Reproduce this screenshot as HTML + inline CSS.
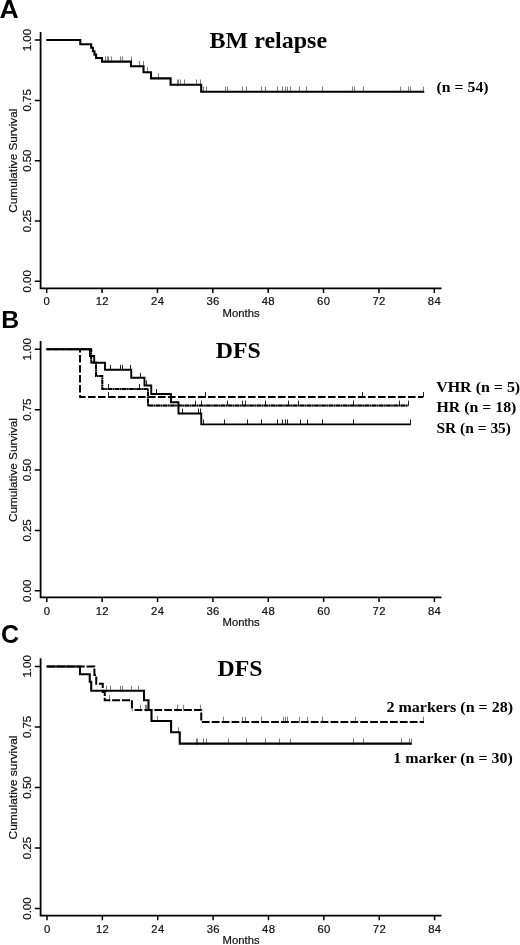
<!DOCTYPE html>
<html lang="en">
<head>
<meta charset="utf-8">
<title>Kaplan-Meier curves: BM relapse and DFS</title>
<style>
html,body{margin:0;padding:0;background:#fff;}
body{width:520px;height:945px;overflow:hidden;}
svg{display:block;}
</style>
</head>
<body>
<svg width="520" height="945" viewBox="0 0 520 945">
<rect width="520" height="945" fill="#fff"/>
<g id="panelA">
<text x="-0.5" y="17.8" font-family="'Liberation Sans', Arial, Helvetica, sans-serif" font-weight="bold" font-size="26.6" fill="#000">A</text>
<path d="M40.6 31.90V288.40H441.5" stroke="#000" stroke-width="1.8" fill="none" stroke-linejoin="miter"/>
<path d="M34.8 40.10H40.6M34.8 100.40H40.6M34.8 160.70H40.6M34.8 221.00H40.6M34.8 281.30H40.6M46.70 288.40V293.00M102.07 288.40V293.00M157.44 288.40V293.00M212.81 288.40V293.00M268.18 288.40V293.00M323.55 288.40V293.00M378.92 288.40V293.00M434.29 288.40V293.00" stroke="#000" stroke-width="1.5" fill="none"/>
<text transform="translate(30.6 40.10) rotate(-90)" text-anchor="middle" font-family="'Liberation Sans', Arial, Helvetica, sans-serif" font-size="11.4" textLength="22.3" lengthAdjust="spacingAndGlyphs" fill="#111" stroke="#111" stroke-width="0.22">1.00</text>
<text transform="translate(30.6 100.40) rotate(-90)" text-anchor="middle" font-family="'Liberation Sans', Arial, Helvetica, sans-serif" font-size="11.4" textLength="22.3" lengthAdjust="spacingAndGlyphs" fill="#111" stroke="#111" stroke-width="0.22">0.75</text>
<text transform="translate(30.6 160.70) rotate(-90)" text-anchor="middle" font-family="'Liberation Sans', Arial, Helvetica, sans-serif" font-size="11.4" textLength="22.3" lengthAdjust="spacingAndGlyphs" fill="#111" stroke="#111" stroke-width="0.22">0.50</text>
<text transform="translate(30.6 221.00) rotate(-90)" text-anchor="middle" font-family="'Liberation Sans', Arial, Helvetica, sans-serif" font-size="11.4" textLength="22.3" lengthAdjust="spacingAndGlyphs" fill="#111" stroke="#111" stroke-width="0.22">0.25</text>
<text transform="translate(30.6 281.30) rotate(-90)" text-anchor="middle" font-family="'Liberation Sans', Arial, Helvetica, sans-serif" font-size="11.4" textLength="22.3" lengthAdjust="spacingAndGlyphs" fill="#111" stroke="#111" stroke-width="0.22">0.00</text>
<text transform="translate(17.2 160.70) rotate(-90)" text-anchor="middle" font-family="'Liberation Sans', Arial, Helvetica, sans-serif" font-size="11.4" textLength="104" lengthAdjust="spacingAndGlyphs" fill="#111" stroke="#111" stroke-width="0.22">Cumulative Survival</text>
<text x="46.90" y="305.40" text-anchor="middle" font-family="'Liberation Sans', Arial, Helvetica, sans-serif" font-size="11.3" letter-spacing="0.35" fill="#111" stroke="#111" stroke-width="0.22">0</text>
<text x="102.27" y="305.40" text-anchor="middle" font-family="'Liberation Sans', Arial, Helvetica, sans-serif" font-size="11.3" letter-spacing="0.35" fill="#111" stroke="#111" stroke-width="0.22">12</text>
<text x="157.64" y="305.40" text-anchor="middle" font-family="'Liberation Sans', Arial, Helvetica, sans-serif" font-size="11.3" letter-spacing="0.35" fill="#111" stroke="#111" stroke-width="0.22">24</text>
<text x="213.01" y="305.40" text-anchor="middle" font-family="'Liberation Sans', Arial, Helvetica, sans-serif" font-size="11.3" letter-spacing="0.35" fill="#111" stroke="#111" stroke-width="0.22">36</text>
<text x="268.38" y="305.40" text-anchor="middle" font-family="'Liberation Sans', Arial, Helvetica, sans-serif" font-size="11.3" letter-spacing="0.35" fill="#111" stroke="#111" stroke-width="0.22">48</text>
<text x="323.75" y="305.40" text-anchor="middle" font-family="'Liberation Sans', Arial, Helvetica, sans-serif" font-size="11.3" letter-spacing="0.35" fill="#111" stroke="#111" stroke-width="0.22">60</text>
<text x="379.12" y="305.40" text-anchor="middle" font-family="'Liberation Sans', Arial, Helvetica, sans-serif" font-size="11.3" letter-spacing="0.35" fill="#111" stroke="#111" stroke-width="0.22">72</text>
<text x="434.49" y="305.40" text-anchor="middle" font-family="'Liberation Sans', Arial, Helvetica, sans-serif" font-size="11.3" letter-spacing="0.35" fill="#111" stroke="#111" stroke-width="0.22">84</text>
<text x="222.6" y="317.10" font-family="'Liberation Sans', Arial, Helvetica, sans-serif" font-size="11.3" textLength="37" lengthAdjust="spacingAndGlyphs" fill="#111" stroke="#111" stroke-width="0.22">Months</text>
<text x="209.6" y="48.3" font-family="'Liberation Serif', 'Times New Roman', Times, serif" font-weight="bold" font-size="23.7" textLength="117.5" lengthAdjust="spacingAndGlyphs" fill="#000">BM relapse</text>
<text x="436.6" y="92.2" font-family="'Liberation Serif', 'Times New Roman', Times, serif" font-weight="bold" font-size="14.9" textLength="52" lengthAdjust="spacingAndGlyphs" fill="#000">(n = 54)</text>
<path d="M105.50 56.40V62.80M107.50 56.40V62.80M108.50 56.40V62.80M111.50 56.40V62.80M120.50 56.40V62.80M122.50 56.40V62.80M131.50 56.40V62.80" stroke="#808080" stroke-width="1.1" fill="none"/>
<path d="M139.50 61.10V67.50M143.50 61.10V67.50" stroke="#808080" stroke-width="1.1" fill="none"/>
<path d="M147.50 67.10V73.50" stroke="#808080" stroke-width="1.1" fill="none"/>
<path d="M158.50 73.20V79.60" stroke="#808080" stroke-width="1.1" fill="none"/>
<path d="M177.50 79.50V85.90M178.50 79.50V85.90M180.50 79.50V85.90M184.50 79.50V85.90M196.50 79.50V85.90M200.50 79.50V85.90" stroke="#808080" stroke-width="1.1" fill="none"/>
<path d="M203.50 86.50V92.90M206.50 86.50V92.90M225.50 86.50V92.90M227.50 86.50V92.90M242.50 86.50V92.90M246.50 86.50V92.90M261.50 86.50V92.90M265.50 86.50V92.90M277.50 86.50V92.90M282.50 86.50V92.90M285.50 86.50V92.90M287.50 86.50V92.90M290.50 86.50V92.90M299.50 86.50V92.90M306.50 86.50V92.90M322.50 86.50V92.90M352.50 86.50V92.90M354.50 86.50V92.90M363.50 86.50V92.90M400.50 86.50V92.90M408.50 86.50V92.90M410.50 86.50V92.90M423.50 86.50V92.90" stroke="#808080" stroke-width="1.1" fill="none"/>
<path d="M46.30 40.00 L80.30 40.00 L80.30 44.30 L91.20 44.30 L91.20 47.80 L92.90 47.80 L92.90 51.20 L94.50 51.20 L94.50 54.60 L96.10 54.60 L96.10 58.00 L102.00 58.00 L102.00 61.60 L131.00 61.60 L131.00 66.30 L143.50 66.30 L143.50 72.30 L151.00 72.30 L151.00 78.40 L170.60 78.40 L170.60 84.70 L201.20 84.70 L201.20 91.70 L424.20 91.70" stroke="#000" stroke-width="2.1" fill="none" stroke-linejoin="miter" stroke-linecap="butt"/>
</g>
<g id="panelB">
<text x="1.3" y="328" font-family="'Liberation Sans', Arial, Helvetica, sans-serif" font-weight="bold" font-size="24.8" fill="#000">B</text>
<path d="M40.6 341.10V597.40H441.5" stroke="#000" stroke-width="1.8" fill="none" stroke-linejoin="miter"/>
<path d="M34.8 349.30H40.6M34.8 409.68H40.6M34.8 470.05H40.6M34.8 530.42H40.6M34.8 590.80H40.6M46.80 597.40V602.00M102.17 597.40V602.00M157.54 597.40V602.00M212.91 597.40V602.00M268.28 597.40V602.00M323.65 597.40V602.00M379.02 597.40V602.00M434.39 597.40V602.00" stroke="#000" stroke-width="1.5" fill="none"/>
<text transform="translate(30.6 349.30) rotate(-90)" text-anchor="middle" font-family="'Liberation Sans', Arial, Helvetica, sans-serif" font-size="11.4" textLength="22.3" lengthAdjust="spacingAndGlyphs" fill="#111" stroke="#111" stroke-width="0.22">1.00</text>
<text transform="translate(30.6 409.68) rotate(-90)" text-anchor="middle" font-family="'Liberation Sans', Arial, Helvetica, sans-serif" font-size="11.4" textLength="22.3" lengthAdjust="spacingAndGlyphs" fill="#111" stroke="#111" stroke-width="0.22">0.75</text>
<text transform="translate(30.6 470.05) rotate(-90)" text-anchor="middle" font-family="'Liberation Sans', Arial, Helvetica, sans-serif" font-size="11.4" textLength="22.3" lengthAdjust="spacingAndGlyphs" fill="#111" stroke="#111" stroke-width="0.22">0.50</text>
<text transform="translate(30.6 530.42) rotate(-90)" text-anchor="middle" font-family="'Liberation Sans', Arial, Helvetica, sans-serif" font-size="11.4" textLength="22.3" lengthAdjust="spacingAndGlyphs" fill="#111" stroke="#111" stroke-width="0.22">0.25</text>
<text transform="translate(30.6 590.80) rotate(-90)" text-anchor="middle" font-family="'Liberation Sans', Arial, Helvetica, sans-serif" font-size="11.4" textLength="22.3" lengthAdjust="spacingAndGlyphs" fill="#111" stroke="#111" stroke-width="0.22">0.00</text>
<text transform="translate(17.2 470.05) rotate(-90)" text-anchor="middle" font-family="'Liberation Sans', Arial, Helvetica, sans-serif" font-size="11.4" textLength="104" lengthAdjust="spacingAndGlyphs" fill="#111" stroke="#111" stroke-width="0.22">Cumulative Survival</text>
<text x="47.00" y="614.70" text-anchor="middle" font-family="'Liberation Sans', Arial, Helvetica, sans-serif" font-size="11.3" letter-spacing="0.35" fill="#111" stroke="#111" stroke-width="0.22">0</text>
<text x="102.37" y="614.70" text-anchor="middle" font-family="'Liberation Sans', Arial, Helvetica, sans-serif" font-size="11.3" letter-spacing="0.35" fill="#111" stroke="#111" stroke-width="0.22">12</text>
<text x="157.74" y="614.70" text-anchor="middle" font-family="'Liberation Sans', Arial, Helvetica, sans-serif" font-size="11.3" letter-spacing="0.35" fill="#111" stroke="#111" stroke-width="0.22">24</text>
<text x="213.11" y="614.70" text-anchor="middle" font-family="'Liberation Sans', Arial, Helvetica, sans-serif" font-size="11.3" letter-spacing="0.35" fill="#111" stroke="#111" stroke-width="0.22">36</text>
<text x="268.48" y="614.70" text-anchor="middle" font-family="'Liberation Sans', Arial, Helvetica, sans-serif" font-size="11.3" letter-spacing="0.35" fill="#111" stroke="#111" stroke-width="0.22">48</text>
<text x="323.85" y="614.70" text-anchor="middle" font-family="'Liberation Sans', Arial, Helvetica, sans-serif" font-size="11.3" letter-spacing="0.35" fill="#111" stroke="#111" stroke-width="0.22">60</text>
<text x="379.22" y="614.70" text-anchor="middle" font-family="'Liberation Sans', Arial, Helvetica, sans-serif" font-size="11.3" letter-spacing="0.35" fill="#111" stroke="#111" stroke-width="0.22">72</text>
<text x="434.59" y="614.70" text-anchor="middle" font-family="'Liberation Sans', Arial, Helvetica, sans-serif" font-size="11.3" letter-spacing="0.35" fill="#111" stroke="#111" stroke-width="0.22">84</text>
<text x="222.6" y="626.40" font-family="'Liberation Sans', Arial, Helvetica, sans-serif" font-size="11.3" textLength="37" lengthAdjust="spacingAndGlyphs" fill="#111" stroke="#111" stroke-width="0.22">Months</text>
<text x="215.8" y="357.6" font-family="'Liberation Serif', 'Times New Roman', Times, serif" font-weight="bold" font-size="23.7" textLength="45" lengthAdjust="spacingAndGlyphs" fill="#000">DFS</text>
<text x="436.2" y="391.6" font-family="'Liberation Serif', 'Times New Roman', Times, serif" font-weight="bold" font-size="14.9" textLength="84" lengthAdjust="spacingAndGlyphs" fill="#000">VHR (n = 5)</text>
<text x="436.4" y="412.1" font-family="'Liberation Serif', 'Times New Roman', Times, serif" font-weight="bold" font-size="14.9" textLength="80" lengthAdjust="spacingAndGlyphs" fill="#000">HR (n = 18)</text>
<text x="436.5" y="432.6" font-family="'Liberation Serif', 'Times New Roman', Times, serif" font-weight="bold" font-size="14.9" textLength="74.5" lengthAdjust="spacingAndGlyphs" fill="#000">SR (n = 35)</text>
<path d="M108.50 392.00V397.00M205.50 392.00V397.00M362.50 392.00V397.00M423.50 392.00V397.00" stroke="#222" stroke-width="1.0" fill="none"/>
<path d="M108.50 384.00V389.00M139.50 384.00V389.00" stroke="#222" stroke-width="1.0" fill="none"/>
<path d="M195.50 400.60V405.60M201.50 400.60V405.60M227.50 400.60V405.60M242.50 400.60V405.60M245.50 400.60V405.60M265.50 400.60V405.60M288.50 400.60V405.60M298.50 400.60V405.60M353.50 400.60V405.60M399.50 400.60V405.60M408.50 400.60V405.60" stroke="#222" stroke-width="1.0" fill="none"/>
<path d="M110.50 364.80V369.80M120.50 364.80V369.80M122.50 364.80V369.80M130.50 364.80V369.80" stroke="#222" stroke-width="1.0" fill="none"/>
<path d="M140.50 372.80V377.80" stroke="#222" stroke-width="1.0" fill="none"/>
<path d="M146.50 380.50V385.50" stroke="#222" stroke-width="1.0" fill="none"/>
<path d="M156.50 389.00V394.00" stroke="#222" stroke-width="1.0" fill="none"/>
<path d="M182.50 408.50V413.50M198.50 408.50V413.50M200.50 408.50V413.50" stroke="#222" stroke-width="1.0" fill="none"/>
<path d="M203.50 419.40V424.40M224.50 419.40V424.40M247.50 419.40V424.40M261.50 419.40V424.40M277.50 419.40V424.40M282.50 419.40V424.40M285.50 419.40V424.40M287.50 419.40V424.40M300.50 419.40V424.40M307.50 419.40V424.40M322.50 419.40V424.40M353.50 419.40V424.40M410.50 419.40V424.40" stroke="#222" stroke-width="1.0" fill="none"/>
<path d="M80.00 349.30 L80.00 397.00 L423.20 397.00" stroke="#000" stroke-width="1.9" fill="none" stroke-dasharray="7.6 2.4" stroke-dashoffset="4.3"/>
<path d="M46.50 349.30 L91.20 349.30 L91.20 362.60 L96.00 362.60 L96.00 376.00 L102.30 376.00 L102.30 389.00 L148.00 389.00 L148.00 405.60 L408.30 405.60" stroke="#777" stroke-width="1.6" fill="none"/>
<path d="M46.50 349.30 L91.20 349.30 L91.20 362.60 L96.00 362.60 L96.00 376.00 L102.30 376.00 L102.30 389.00 L148.00 389.00 L148.00 405.60 L408.30 405.60" stroke="#000" stroke-width="2" fill="none" stroke-dasharray="4.4 0.7 1.4 0.7"/>
<path d="M46.50 349.30 L89.90 349.30 L89.90 356.00 L94.20 356.00 L94.20 362.80 L105.00 362.80 L105.00 369.80 L131.25 369.80 L131.25 377.80 L144.50 377.80 L144.50 385.50 L151.25 385.50 L151.25 394.00 L171.00 394.00 L171.00 402.30 L178.50 402.30 L178.50 413.50 L201.25 413.50 L201.25 424.40 L410.80 424.40" stroke="#000" stroke-width="1.9" fill="none"/>
</g>
<g id="panelC">
<text x="1.0" y="643.1" font-family="'Liberation Sans', Arial, Helvetica, sans-serif" font-weight="bold" font-size="25" fill="#000">C</text>
<path d="M40.6 658.20V915.70H441.5" stroke="#000" stroke-width="1.8" fill="none" stroke-linejoin="miter"/>
<path d="M34.8 666.40H40.6M34.8 726.95H40.6M34.8 787.50H40.6M34.8 848.05H40.6M34.8 908.60H40.6M47.00 915.70V920.30M102.37 915.70V920.30M157.74 915.70V920.30M213.11 915.70V920.30M268.48 915.70V920.30M323.85 915.70V920.30M379.22 915.70V920.30M434.59 915.70V920.30" stroke="#000" stroke-width="1.5" fill="none"/>
<text transform="translate(30.6 666.40) rotate(-90)" text-anchor="middle" font-family="'Liberation Sans', Arial, Helvetica, sans-serif" font-size="11.4" textLength="22.3" lengthAdjust="spacingAndGlyphs" fill="#111" stroke="#111" stroke-width="0.22">1.00</text>
<text transform="translate(30.6 726.95) rotate(-90)" text-anchor="middle" font-family="'Liberation Sans', Arial, Helvetica, sans-serif" font-size="11.4" textLength="22.3" lengthAdjust="spacingAndGlyphs" fill="#111" stroke="#111" stroke-width="0.22">0.75</text>
<text transform="translate(30.6 787.50) rotate(-90)" text-anchor="middle" font-family="'Liberation Sans', Arial, Helvetica, sans-serif" font-size="11.4" textLength="22.3" lengthAdjust="spacingAndGlyphs" fill="#111" stroke="#111" stroke-width="0.22">0.50</text>
<text transform="translate(30.6 848.05) rotate(-90)" text-anchor="middle" font-family="'Liberation Sans', Arial, Helvetica, sans-serif" font-size="11.4" textLength="22.3" lengthAdjust="spacingAndGlyphs" fill="#111" stroke="#111" stroke-width="0.22">0.25</text>
<text transform="translate(30.6 908.60) rotate(-90)" text-anchor="middle" font-family="'Liberation Sans', Arial, Helvetica, sans-serif" font-size="11.4" textLength="22.3" lengthAdjust="spacingAndGlyphs" fill="#111" stroke="#111" stroke-width="0.22">0.00</text>
<text transform="translate(17.2 787.50) rotate(-90)" text-anchor="middle" font-family="'Liberation Sans', Arial, Helvetica, sans-serif" font-size="11.4" textLength="104" lengthAdjust="spacingAndGlyphs" fill="#111" stroke="#111" stroke-width="0.22">Cumulative survival</text>
<text x="47.20" y="932.60" text-anchor="middle" font-family="'Liberation Sans', Arial, Helvetica, sans-serif" font-size="11.3" letter-spacing="0.35" fill="#111" stroke="#111" stroke-width="0.22">0</text>
<text x="102.57" y="932.60" text-anchor="middle" font-family="'Liberation Sans', Arial, Helvetica, sans-serif" font-size="11.3" letter-spacing="0.35" fill="#111" stroke="#111" stroke-width="0.22">12</text>
<text x="157.94" y="932.60" text-anchor="middle" font-family="'Liberation Sans', Arial, Helvetica, sans-serif" font-size="11.3" letter-spacing="0.35" fill="#111" stroke="#111" stroke-width="0.22">24</text>
<text x="213.31" y="932.60" text-anchor="middle" font-family="'Liberation Sans', Arial, Helvetica, sans-serif" font-size="11.3" letter-spacing="0.35" fill="#111" stroke="#111" stroke-width="0.22">36</text>
<text x="268.68" y="932.60" text-anchor="middle" font-family="'Liberation Sans', Arial, Helvetica, sans-serif" font-size="11.3" letter-spacing="0.35" fill="#111" stroke="#111" stroke-width="0.22">48</text>
<text x="324.05" y="932.60" text-anchor="middle" font-family="'Liberation Sans', Arial, Helvetica, sans-serif" font-size="11.3" letter-spacing="0.35" fill="#111" stroke="#111" stroke-width="0.22">60</text>
<text x="379.42" y="932.60" text-anchor="middle" font-family="'Liberation Sans', Arial, Helvetica, sans-serif" font-size="11.3" letter-spacing="0.35" fill="#111" stroke="#111" stroke-width="0.22">72</text>
<text x="434.79" y="932.60" text-anchor="middle" font-family="'Liberation Sans', Arial, Helvetica, sans-serif" font-size="11.3" letter-spacing="0.35" fill="#111" stroke="#111" stroke-width="0.22">84</text>
<text x="222.6" y="944.30" font-family="'Liberation Sans', Arial, Helvetica, sans-serif" font-size="11.3" textLength="37" lengthAdjust="spacingAndGlyphs" fill="#111" stroke="#111" stroke-width="0.22">Months</text>
<text x="217.6" y="676.3" font-family="'Liberation Serif', 'Times New Roman', Times, serif" font-weight="bold" font-size="23.7" textLength="45" lengthAdjust="spacingAndGlyphs" fill="#000">DFS</text>
<text x="386.4" y="712.2" font-family="'Liberation Serif', 'Times New Roman', Times, serif" font-weight="bold" font-size="14.9" textLength="126.7" lengthAdjust="spacingAndGlyphs" fill="#000">2 markers (n = 28)</text>
<text x="393.2" y="762.9" font-family="'Liberation Serif', 'Times New Roman', Times, serif" font-weight="bold" font-size="14.9" textLength="119.7" lengthAdjust="spacingAndGlyphs" fill="#000">1 marker (n = 30)</text>
<path d="M106.50 685.80V692.00M110.50 685.80V692.00M120.50 685.80V692.00M122.50 685.80V692.00M131.50 685.80V692.00M138.50 685.80V692.00" stroke="#808080" stroke-width="1.1" fill="none"/>
<path d="M157.50 716.00V722.20" stroke="#808080" stroke-width="1.1" fill="none"/>
<path d="M178.50 727.30V733.50" stroke="#808080" stroke-width="1.1" fill="none"/>
<path d="M196.50 738.60V744.80M197.50 738.60V744.80M203.50 738.60V744.80M206.50 738.60V744.80M228.50 738.60V744.80M246.50 738.60V744.80M265.50 738.60V744.80M279.50 738.60V744.80M290.50 738.60V744.80M353.50 738.60V744.80M363.50 738.60V744.80M401.50 738.60V744.80M409.50 738.60V744.80M411.50 738.60V744.80" stroke="#808080" stroke-width="1.1" fill="none"/>
<path d="M109.50 695.10V701.50" stroke="#808080" stroke-width="1.1" fill="none"/>
<path d="M140.50 704.80V711.20M145.50 704.80V711.20M146.50 704.80V711.20M177.50 704.80V711.20M183.50 704.80V711.20M200.50 704.80V711.20" stroke="#808080" stroke-width="1.1" fill="none"/>
<path d="M223.50 716.70V723.10M242.50 716.70V723.10M245.50 716.70V723.10M261.50 716.70V723.10M283.50 716.70V723.10M285.50 716.70V723.10M287.50 716.70V723.10M299.50 716.70V723.10M307.50 716.70V723.10M322.50 716.70V723.10M355.50 716.70V723.10M423.50 716.70V723.10" stroke="#808080" stroke-width="1.1" fill="none"/>
<path d="M46.50 666.50 L94.40 666.50 L94.40 675.00 L96.25 675.00 L96.25 683.80 L102.75 683.80 L102.75 692.00 L104.75 692.00 L104.75 700.30 L131.90 700.30 L131.90 710.00" stroke="#000" stroke-width="2" fill="none" stroke-dasharray="8.1 1.8" stroke-dashoffset="9.5"/>
<path d="M131.90 710.00 L201.25 710.00 L201.25 721.90 L424.00 721.90" stroke="#000" stroke-width="2" fill="none" stroke-dasharray="7.8 2.1" stroke-dashoffset="7.25"/>
<path d="M46.50 666.50 L80.00 666.50 L80.00 674.30 L89.75 674.30 L89.75 681.80 L91.20 681.80 L91.20 690.80 L144.00 690.80 L144.00 700.30 L148.50 700.30 L148.50 710.00 L151.50 710.00 L151.50 721.00 L171.10 721.00 L171.10 732.30 L179.75 732.30 L179.75 743.60 L411.60 743.60" stroke="#000" stroke-width="2.1" fill="none"/>
</g>
</svg>
</body>
</html>
